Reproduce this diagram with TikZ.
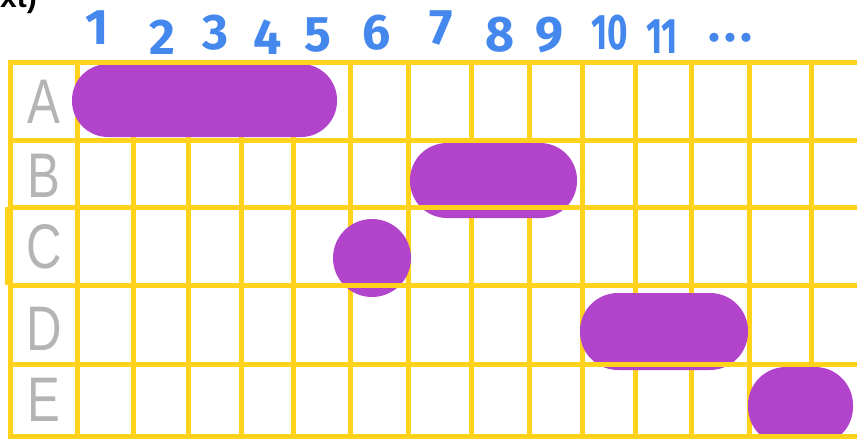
\documentclass[tikz,border=0pt]{standalone}
\usepackage{fontspec}
\setmainfont{Liberation Sans}
\newfontfamily\numfont{Fira Sans}
\definecolor{gridyellow}{RGB}{255,210,28}
\definecolor{blobpurple}{RGB}{178,68,204}
\definecolor{numblue}{RGB}{68,136,238}
\definecolor{lblgray}{RGB}{180,180,180}
\begin{document}
\begin{tikzpicture}[x=1pt,y=-1pt,
  gridline/.style={draw=gridyellow,line width=5pt},
  blob/.style={fill=blobpurple},
  lbl/.style={inner sep=0pt,text=lblgray,font=\fontsize{63}{63}\selectfont},
  num/.style={inner sep=0pt,text=numblue,font=\numfont\bfseries\fontsize{50}{50}\selectfont},
  title/.style={inner sep=0pt,anchor=base west,font=\bfseries\fontsize{30}{30}\selectfont}]
\useasboundingbox (0,0) rectangle (857,439);
\clip (0,0) rectangle (857,439);
\fill[white] (0,0) rectangle (857,439);
% title fragment
\node[title] (ttl) at (0,8) {xt)};
% vertical grid lines
\foreach \x in {10,77,133,188,241,293,350,408,471,529,582,635,691,749,811}
  \draw[gridline] (\x,62) -- (\x,436);
\draw[gridline] (7,207) -- (7,285);
% purple blobs
\fill[blob,rounded corners=36pt] (72,64) rectangle (337,137);
\fill[blob,rounded corners=30pt] (250,62) rectangle (320,100);
\fill[blob,rounded corners=37pt] (410,143) rectangle (577,218);
\fill[blob] (372,258) circle (39);
\fill[blob,rounded corners=38pt] (580,293) rectangle (748,370);
\fill[blob,rounded corners=38pt] (748,367) rectangle (853,445);
% horizontal grid lines
\foreach \y in {62,140,207,285,364,436}
  \draw[gridline] (8,\y) -- (857,\y);
% row labels
\node[lbl] (la) at (44,102) {\scalebox{0.78}[1]{A}};
\node[lbl] (lb) at (44,176) {\scalebox{0.78}[1]{B}};
\node[lbl] (lc) at (44,247) {\scalebox{0.78}[1]{C}};
\node[lbl] (ld) at (44,329) {\scalebox{0.78}[1]{D}};
\node[lbl] (le) at (44,400) {\scalebox{0.78}[1]{E}};
% column numbers
\node[num] (n1) at (97,28) {1};
\node[num] (n2) at (162,37) {2};
\node[num] (n3) at (215,33) {3};
\node[num] (n4) at (268,37) {4};
\node[num] (n5) at (318,35) {5};
\node[num] (n6) at (377,33) {6};
\node[num] (n7) at (441,28) {7};
\node[num] (n8) at (500,35) {8};
\node[num] (n9) at (549,35) {9};
\node[num] (n10) at (610,33) {\scalebox{0.7}[1]{10}};
\node[num] (n11) at (662,37) {\scalebox{0.7}[1]{11}};
\node[num] (ndots) at (730,38) {.\kern4pt.\kern4pt.};
\end{tikzpicture}
\end{document}
